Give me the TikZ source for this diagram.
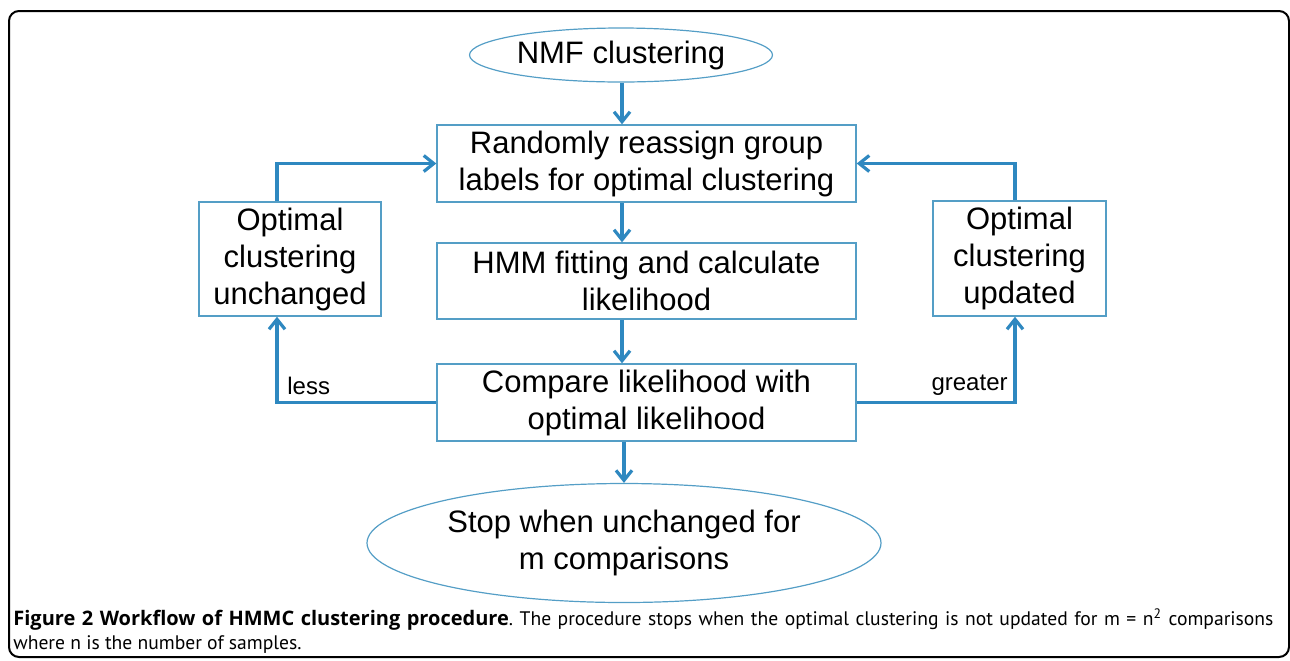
\documentclass[tikz,border=0pt]{standalone}
\usepackage{fontspec}
\setmainfont{Liberation Sans}
\newfontfamily\capfont{PT Sans}
\newfontfamily\capboldfont{Open Sans}
\usetikzlibrary{shapes.geometric,arrows.meta,positioning}
\definecolor{flowblue}{RGB}{46,136,192}
\definecolor{boxblue}{RGB}{84,158,198}
\frenchspacing

\begin{document}
\begin{tikzpicture}[
    x=0.5pt, y=-0.5pt,
    stepbox/.style={rectangle, draw=boxblue, line width=0.7pt, align=center, inner sep=0pt, font=\fontsize{15.5}{18.5}\selectfont},
    terminal/.style={ellipse, draw=boxblue, line width=0.6pt, align=center, inner sep=0pt, font=\fontsize{15.5}{18.5}\selectfont},
    arrow/.style={-{Straight Barb[length=5pt,width=8pt]}, draw=flowblue, line width=1.6pt},
    branch/.style={inner sep=0pt, font=\fontsize{12}{14}\selectfont}
]
\useasboundingbox (0,0) rectangle (1290,660);

% Cadre
\draw[line width=1pt, rounded corners=5pt] (9,11) rectangle (1289,657);

% Etapes (colonne centrale)
\node[terminal, minimum width=151.5pt, minimum height=27pt] (nmf) at (621,55) {NMF clustering};
\node[stepbox, minimum width=209.5pt, minimum height=38.5pt] (assign) at (646.5,163.5) {Randomly reassign group\\labels for optimal clustering};
\node[stepbox, minimum width=209.5pt, minimum height=38pt] (fit) at (646.5,281) {HMM fitting and calculate\\likelihood};
\node[stepbox, minimum width=209.5pt, minimum height=38.5pt] (compare) at (646.5,402.5) {Compare likelihood with\\optimal likelihood};
\node[terminal, minimum width=257pt, minimum height=59.5pt] (stop) at (624,543) {Stop when unchanged for\\m comparisons};

% Resultats (gauche et droite)
\node[stepbox, minimum width=91pt, minimum height=57pt] (unchanged) at (290,259) {Optimal\\clustering\\unchanged};
\node[stepbox, minimum width=86.5pt, minimum height=57.5pt] (updated) at (1019.5,258.5) {Optimal\\clustering\\updated};

\coordinate (midx) at (622,0);
\coordinate (lessx) at (277,0);
\coordinate (greatx) at (1015,0);

% Fleches principales
\draw[arrow] (midx |- nmf.south) -- (midx |- assign.north);
\draw[arrow] (midx |- assign.south) -- (midx |- fit.north);
\draw[arrow] (midx |- fit.south) -- (midx |- compare.north);
\draw[arrow] (stop.north |- compare.south) -- (stop.north);

% Boucles
\draw[arrow] (compare.west) -| (lessx |- unchanged.south);
\draw[arrow] (lessx |- unchanged.north) |- (assign.west);
\draw[arrow] (compare.east) -| (greatx |- updated.south);
\draw[arrow] (greatx |- updated.north) |- (assign.east);

\node[branch, anchor=base west] (lesslbl) at (287,394) {less};
\node[branch, anchor=base east] (greaterlbl) at (1008,390) {greater};

% Legende
\node[anchor=north west, text width=630pt, align=justify, inner sep=0pt, font=\capfont\fontsize{9.8}{12}\selectfont] (caption) at (13,608) {{\capboldfont\bfseries\fontsize{10}{12}\selectfont Figure 2 Workflow of HMMC clustering procedure}. The procedure stops when the optimal clustering is not updated for m = n\textsuperscript{2} comparisons\linebreak where n is the number of samples.};

\end{tikzpicture}
\end{document}
